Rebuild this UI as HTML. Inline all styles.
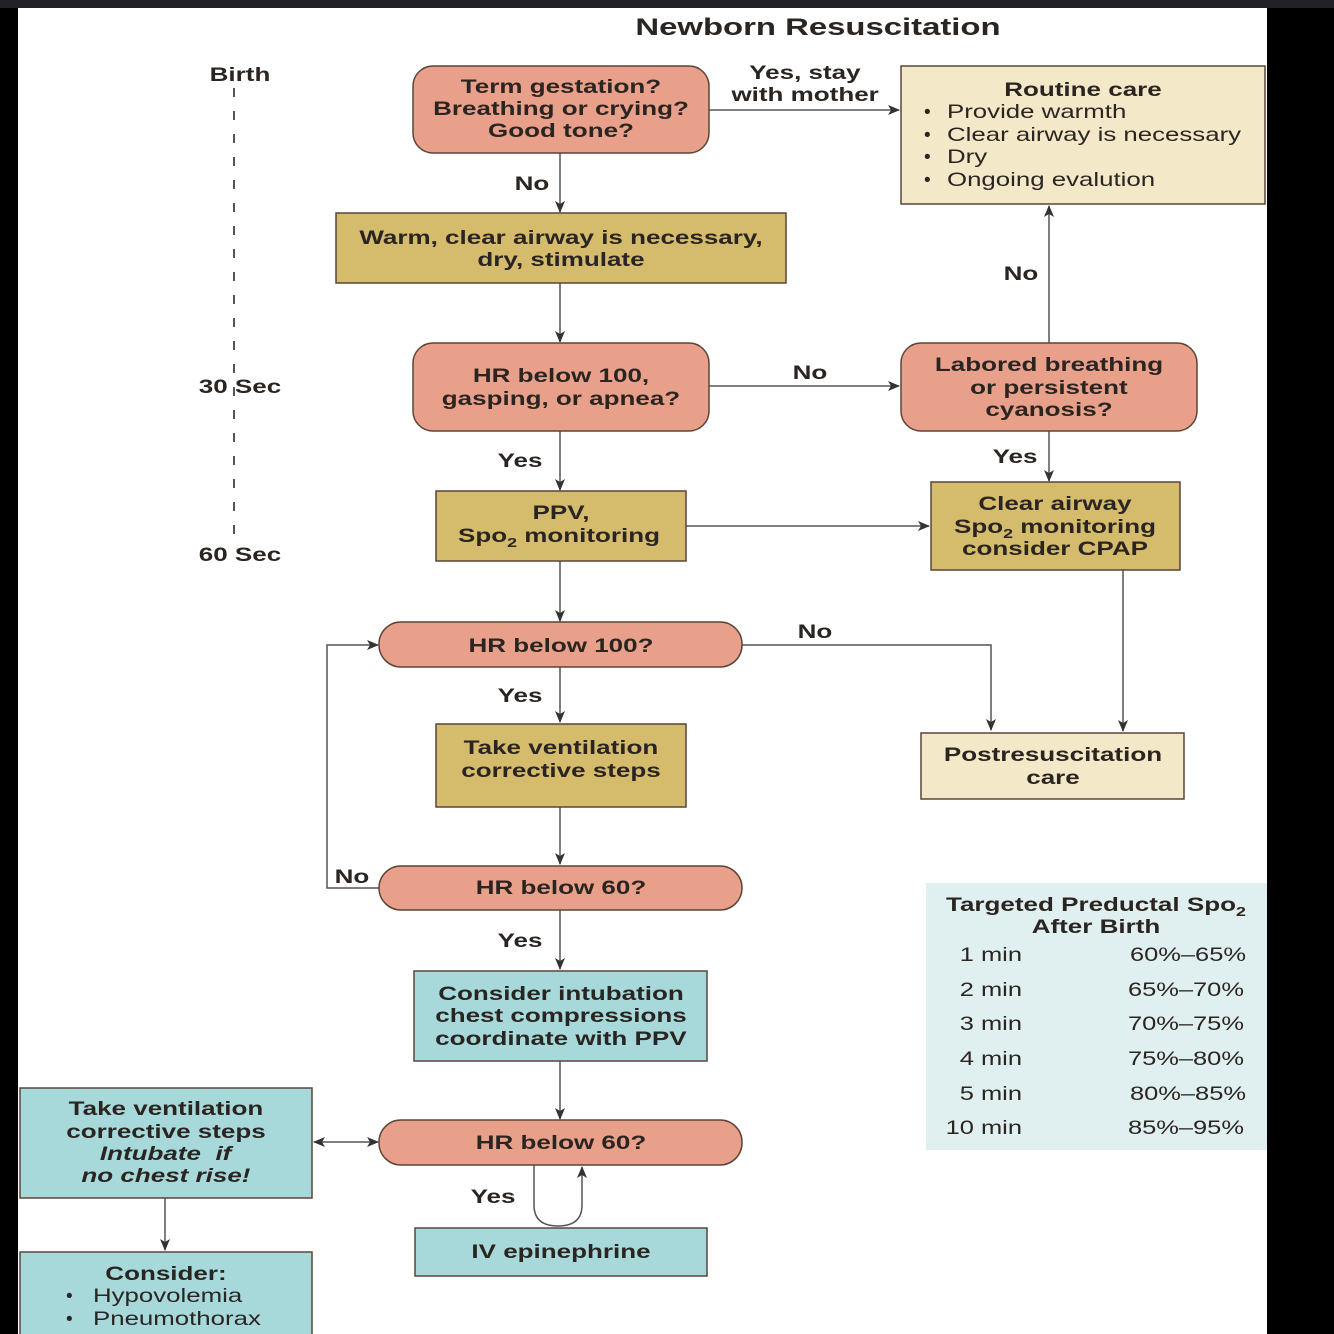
<!DOCTYPE html>
<html><head><meta charset="utf-8"><style>
html,body{margin:0;padding:0;background:#000;}
svg{display:block}
text{font-family:"Liberation Sans",Arial,sans-serif;font-weight:bold;fill:#2b2522;font-size:19px;transform-box:fill-box}
.r{font-weight:normal}
.c{text-anchor:middle;transform-origin:center;transform:scaleX(1.37)}
.l{transform-origin:left center;transform:scaleX(1.36)}
.e{text-anchor:end;transform-origin:right center;transform:scaleX(1.34)}
</style></head><body>
<svg width="1334" height="1334" viewBox="0 0 1334 1334" xmlns="http://www.w3.org/2000/svg">
<defs><marker id="a" markerWidth="12" markerHeight="10" refX="11" refY="5" orient="auto" markerUnits="userSpaceOnUse"><path d="M0,0 L12,5 L0,10 L3,5Z" fill="#333"/></marker>
<marker id="s" markerWidth="12" markerHeight="10" refX="1" refY="5" orient="auto" markerUnits="userSpaceOnUse"><path d="M12,0 L0,5 L12,10 L9,5Z" fill="#333"/></marker></defs>
<rect x="0" y="0" width="1334" height="1334" fill="#000"/>
<rect x="0" y="0" width="1334" height="8" fill="#202226"/>
<rect x="18" y="8" width="1249" height="1326" fill="#fff"/>
<text class="c" x="818" y="35" style="font-size:24px">Newborn Resuscitation</text>
<text class="c" x="240" y="81">Birth</text>
<line x1="234" y1="88" x2="234" y2="540" stroke="#555" stroke-width="2" stroke-dasharray="9,14"/>
<text class="c" x="240" y="393">30 Sec</text>
<text class="c" x="240" y="561">60 Sec</text>
<g stroke="#555" stroke-width="1.5" fill="none">
<line x1="709" y1="110" x2="899" y2="110" marker-end="url(#a)"/>
<line x1="560" y1="153" x2="560" y2="212" marker-end="url(#a)"/>
<line x1="560" y1="283" x2="560" y2="342" marker-end="url(#a)"/>
<line x1="709" y1="386" x2="899" y2="386" marker-end="url(#a)"/>
<line x1="1049" y1="343" x2="1049" y2="206" marker-end="url(#a)"/>
<line x1="560" y1="431" x2="560" y2="490" marker-end="url(#a)"/>
<line x1="1049" y1="431" x2="1049" y2="481" marker-end="url(#a)"/>
<line x1="686" y1="526" x2="929" y2="526" marker-end="url(#a)"/>
<line x1="560" y1="561" x2="560" y2="621" marker-end="url(#a)"/>
<polyline points="742,645 991,645 991,730" marker-end="url(#a)"/>
<line x1="1123" y1="570" x2="1123" y2="731" marker-end="url(#a)"/>
<line x1="560" y1="667" x2="560" y2="722" marker-end="url(#a)"/>
<line x1="560" y1="807" x2="560" y2="864" marker-end="url(#a)"/>
<polyline points="379,888 327,888 327,645 378,645" marker-end="url(#a)"/>
<line x1="560" y1="910" x2="560" y2="969" marker-end="url(#a)"/>
<line x1="560" y1="1061" x2="560" y2="1119" marker-end="url(#a)"/>
<line x1="314" y1="1142" x2="378" y2="1142" marker-start="url(#s)" marker-end="url(#a)"/>
<line x1="165" y1="1198" x2="165" y2="1250" marker-end="url(#a)"/>
<path d="M534,1165 L534,1205 Q534,1226 558,1226 Q582,1226 582,1205 L582,1167" marker-end="url(#a)"/>
</g>
<g stroke="#5a4538" stroke-width="1.5">
<rect x="413" y="66" width="296" height="87" rx="20" fill="#e8a08a"/>
<rect x="901" y="66" width="364" height="138" fill="#f3e8c8"/>
<rect x="336" y="213" width="450" height="70" fill="#d5bb6c"/>
<rect x="413" y="343" width="296" height="88" rx="20" fill="#e8a08a"/>
<rect x="901" y="343" width="296" height="88" rx="20" fill="#e8a08a"/>
<rect x="436" y="491" width="250" height="70" fill="#d5bb6c"/>
<rect x="931" y="482" width="249" height="88" fill="#d5bb6c"/>
<rect x="379" y="622" width="363" height="45" rx="22" fill="#e8a08a"/>
<rect x="921" y="733" width="263" height="66" fill="#f3e8c8"/>
<rect x="436" y="724" width="250" height="83" fill="#d5bb6c"/>
<rect x="379" y="866" width="363" height="44" rx="22" fill="#e8a08a"/>
<rect x="414" y="971" width="293" height="90" fill="#a7d9db"/>
<rect x="379" y="1120" width="363" height="45" rx="22" fill="#e8a08a"/>
<rect x="20" y="1088" width="292" height="110" fill="#a7d9db"/>
<rect x="20" y="1252" width="292" height="90" fill="#a7d9db"/>
<rect x="415" y="1228" width="292" height="48" fill="#a7d9db"/>
</g>
<rect x="926" y="883" width="341" height="267" fill="#e0eff0"/>
<g>
<text class="c" x="561" y="93">Term gestation?</text><text class="c" x="561" y="115">Breathing or crying?</text><text class="c" x="561" y="137">Good tone?</text>
<text class="c" x="805" y="79">Yes, stay</text><text class="c" x="805" y="101">with mother</text>
<text class="c" x="1083" y="96">Routine care</text>
<text class="c" x="532" y="190">No</text>
<text class="c" x="561" y="244">Warm, clear airway is necessary,</text><text class="c" x="561" y="266">dry, stimulate</text>
<text class="c" x="561" y="382">HR below 100,</text><text class="c" x="561" y="405">gasping, or apnea?</text>
<text class="c" x="810" y="379">No</text>
<text class="c" x="1049" y="371">Labored breathing</text><text class="c" x="1049" y="394">or persistent</text><text class="c" x="1049" y="416">cyanosis?</text>
<text class="c" x="1021" y="280">No</text>
<text class="c" x="520" y="467">Yes</text><text class="c" x="1015" y="463">Yes</text>
<text class="c" x="561" y="519">PPV,</text><text class="c" x="559" y="542">Spo<tspan font-size="13" dy="5">2</tspan><tspan dy="-5"> monitoring</tspan></text>
<text class="c" x="1055" y="510">Clear airway</text><text class="c" x="1055" y="533">Spo<tspan font-size="13" dy="5">2</tspan><tspan dy="-5"> monitoring</tspan></text><text class="c" x="1055" y="555">consider CPAP</text>
<text class="c" x="561" y="652">HR below 100?</text>
<text class="c" x="815" y="638">No</text>
<text class="c" x="520" y="702">Yes</text>
<text class="c" x="561" y="754">Take ventilation</text><text class="c" x="561" y="777">corrective steps</text>
<text class="c" x="1053" y="761">Postresuscitation</text><text class="c" x="1053" y="784">care</text>
<text class="c" x="561" y="894">HR below 60?</text>
<text class="c" x="352" y="883">No</text>
<text class="c" x="520" y="947">Yes</text>
<text class="c" x="561" y="1000">Consider intubation</text><text class="c" x="561" y="1022">chest compressions</text><text class="c" x="561" y="1045">coordinate with PPV</text>
<text class="c" x="561" y="1149">HR below 60?</text>
<text class="c" x="493" y="1203">Yes</text>
<text class="c" x="561" y="1258">IV epinephrine</text>
<text class="c" x="166" y="1115">Take ventilation</text><text class="c" x="166" y="1138">corrective steps</text>
<text class="c" x="166" y="1160" font-style="italic">Intubate&#160; if</text><text class="c" x="166" y="1182" font-style="italic">no chest rise!</text>
<text class="c" x="166" y="1280">Consider:</text>
<text class="c" x="1096" y="911">Targeted Preductal Spo<tspan font-size="13" dy="5">2</tspan></text><text class="c" x="1096" y="933">After Birth</text>
</g>
<g>
<text class="r" x="924" y="118">•</text><text class="r l" x="947" y="118">Provide warmth</text>
<text class="r" x="924" y="141">•</text><text class="r l" x="947" y="141">Clear airway is necessary</text>
<text class="r" x="924" y="163">•</text><text class="r l" x="947" y="163">Dry</text>
<text class="r" x="924" y="186">•</text><text class="r l" x="947" y="186">Ongoing evalution</text>
<text class="r" x="66" y="1302">•</text><text class="r l" x="93" y="1302">Hypovolemia</text>
<text class="r" x="66" y="1325">•</text><text class="r l" x="93" y="1325">Pneumothorax</text>
</g>
<g>
<text class="r e" x="1022" y="961">1 min</text><text class="r e" x="1246" y="961">60%–65%</text>
<text class="r e" x="1022" y="996">2 min</text><text class="r e" x="1244" y="996">65%–70%</text>
<text class="r e" x="1022" y="1030">3 min</text><text class="r e" x="1244" y="1030">70%–75%</text>
<text class="r e" x="1022" y="1065">4 min</text><text class="r e" x="1244" y="1065">75%–80%</text>
<text class="r e" x="1022" y="1100">5 min</text><text class="r e" x="1246" y="1100">80%–85%</text>
<text class="r e" x="1022" y="1134">10 min</text><text class="r e" x="1244" y="1134">85%–95%</text>
</g>
</svg>
</body></html>
